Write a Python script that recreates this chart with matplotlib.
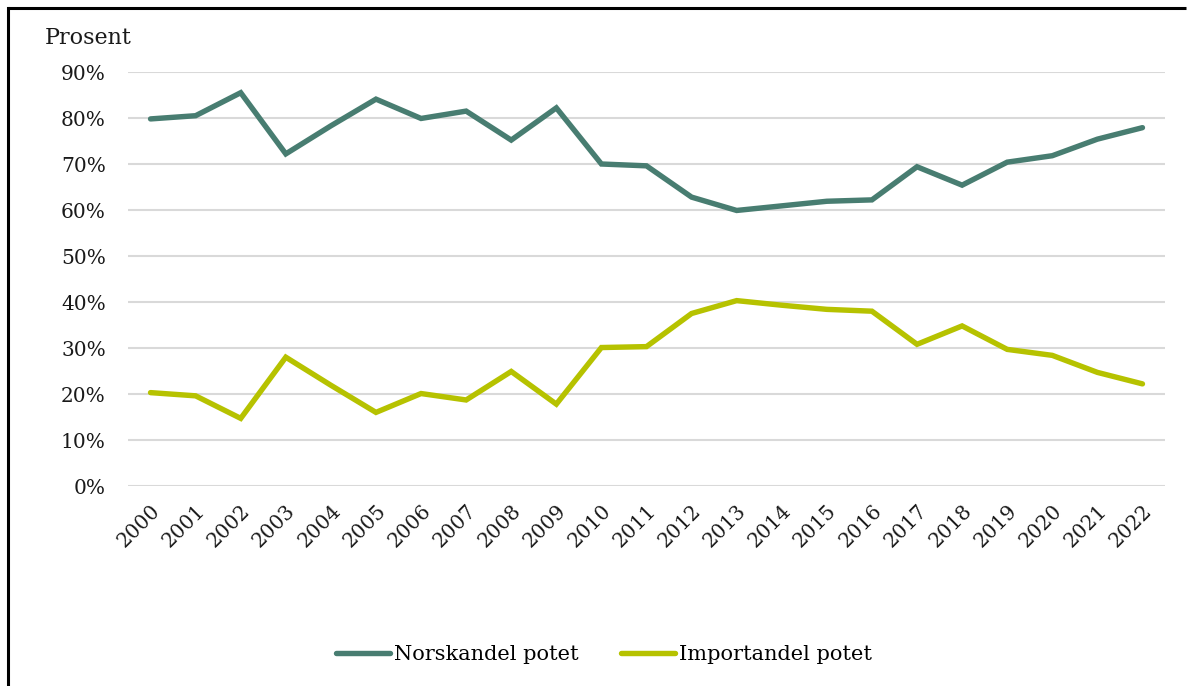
import numpy as np
import matplotlib
matplotlib.use("Agg")
import matplotlib.pyplot as plt
from matplotlib.lines import Line2D

years = [str(y) for y in range(2000, 2023)]
norsk = [79.8, 80.5, 85.5, 72.2, 78.3, 84.1, 79.9, 81.5, 75.2, 82.2, 70.0, 69.6,
         62.8, 59.9, 60.9, 61.9, 62.2, 69.4, 65.4, 70.4, 71.8, 75.4, 77.9]
importandel = [20.3, 19.6, 14.7, 28.0, 21.9, 16.0, 20.1, 18.7, 24.9, 17.8, 30.1, 30.3,
               37.5, 40.3, 39.3, 38.4, 38.0, 30.8, 34.8, 29.7, 28.4, 24.7, 22.2]
yticks = [0, 10, 20, 30, 40, 50, 60, 70, 80, 90]

green = '#487d71'
lime = '#b6c200'

plt.rcParams['font.family'] = ['DejaVu Serif']

W, H = 1187, 686
fig = plt.figure(figsize=(W / 100, H / 100), dpi=100)
ax = fig.add_axes([128 / W, 1 - 486 / H, (1165 - 128) / W, (486 - 72) / H])

x = np.arange(len(years))
ax.plot(x, norsk, color=green, lw=3.9, solid_capstyle='round', solid_joinstyle='miter',
        label='Norskandel potet', zorder=3)
ax.plot(x, importandel, color=lime, lw=3.9, solid_capstyle='round', solid_joinstyle='miter',
        label='Importandel potet', zorder=3)

ax.set_xlim(-0.5, len(years) - 0.5)
ax.set_ylim(0, 90)
ax.set_yticks(yticks)
ax.set_yticklabels([f'{v}%' for v in yticks], fontsize=14.5)
ax.set_xticks(x)
ax.set_xticklabels(years, fontsize=14.5, rotation=45, ha='right', rotation_mode='anchor')
ax.tick_params(axis='both', length=0, colors='#1a1a1a')
ax.tick_params(axis='y', pad=16)
ax.tick_params(axis='x', pad=11)
ax.grid(axis='y', color='#d9d9d9', lw=1.5)
ax.set_axisbelow(True)
for s in ax.spines.values():
    s.set_visible(False)

fig.text(45 / W, 1 - 44 / H, 'Prosent', fontsize=16, ha='left', va='baseline', color='#1a1a1a')

fig.legend(loc='center', bbox_to_anchor=(604 / W, 1 - 655 / H), ncol=2, frameon=False,
           fontsize=15, handlelength=2.6, handletextpad=0.2, columnspacing=2.0)

# border: only the left and top edges are visible
fig.add_artist(Line2D([8 / W, 8 / W], [0, 1 - 8 / H],
                      transform=fig.transFigure, color='black', lw=2.2,
                      solid_capstyle='projecting'))
fig.add_artist(Line2D([8 / W, (W - 1) / W], [1 - 8 / H, 1 - 8 / H],
                      transform=fig.transFigure, color='black', lw=2.2,
                      solid_capstyle='butt'))

fig.savefig('out.png', dpi=100, facecolor='white')
